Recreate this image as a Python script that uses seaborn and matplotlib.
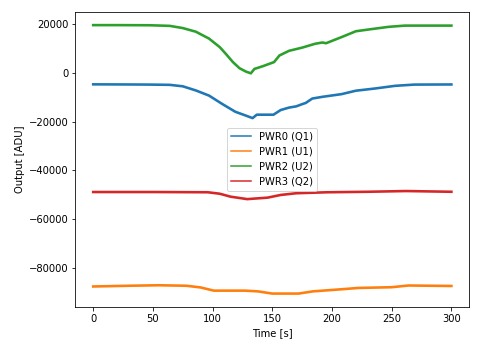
import numpy as np
import pandas as pd
import matplotlib
matplotlib.use("Agg")
import matplotlib.pyplot as plt
import seaborn as sns

labels = ["PWR0 (Q1)", "PWR1 (U1)", "PWR2 (U2)", "PWR3 (Q2)"]

t_pwr0 = [0, 30, 47, 64, 75, 86, 97, 108, 119, 128, 133.5, 137, 151, 157, 164, 170, 175, 178,
          183.5, 192, 208, 220, 236, 253, 269, 300]
v_pwr0 = [-4800, -4850, -4900, -5000, -5600, -7300, -9400, -12800, -16000, -17600, -18600, -17200,
          -17200, -15300, -14300, -13800, -12900, -12400, -10600, -9900, -8800, -7400, -6500,
          -5400, -4900, -4850]

t_pwr1 = [0, 30, 55, 78, 90, 101, 127, 138, 150, 172, 184, 209, 222, 250, 264, 300]
v_pwr1 = [-87400, -87100, -86900, -87100, -87800, -89100, -89100, -89400, -90300, -90300, -89400,
          -88500, -88000, -87700, -87000, -87200]

t_pwr2 = [0, 20, 47, 64, 75, 86, 97, 106, 111, 117, 122.5, 128, 132, 135, 142, 151.5, 156, 164,
          175, 186, 192, 195, 208.5, 220, 233.5, 247.5, 261, 300]
v_pwr2 = [19400, 19400, 19350, 19100, 18200, 16700, 13900, 10400, 7700, 4300, 1800, 400, -300,
          1500, 2600, 4300, 7000, 8900, 10200, 11800, 12300, 12000, 14600, 16900, 17800, 18700,
          19200, 19200]

t_pwr3 = [0, 50, 96, 106, 115, 129, 146, 157, 170, 196, 230, 262, 300]
v_pwr3 = [-48800, -48800, -48900, -49500, -50700, -51700, -51100, -50000, -49300, -48900, -48700,
          -48400, -48700]

frames = []
for lab, t, v in zip(labels, [t_pwr0, t_pwr1, t_pwr2, t_pwr3], [v_pwr0, v_pwr1, v_pwr2, v_pwr3]):
    frames.append(pd.DataFrame({"Time": t, "Output": v, "Channel": lab}))
df = pd.concat(frames, ignore_index=True)

fig = plt.figure(figsize=(483 / 72, 347 / 72), dpi=72)
ax = fig.add_axes([75.3 / 483, 1 - 307 / 347, (469.3 - 75.3) / 483, (307 - 11.7) / 347])
sns.lineplot(data=df, x="Time", y="Output", hue="Channel", hue_order=labels,
             palette=["#1f77b4", "#ff7f0e", "#2ca02c", "#d62728"],
             estimator=None, sort=False, linewidth=2.6, ax=ax)
ax.set_xlabel("Time [s]")
ax.set_ylabel("Output [ADU]")
ax.set_xticks([0, 50, 100, 150, 200, 250, 300])
ax.set_yticks([-80000, -60000, -40000, -20000, 0, 20000])
h, l = ax.get_legend_handles_labels()
for hh in h:
    hh.set_linewidth(1.5)
ax.legend(h, l, loc="center")
fig.savefig("out.png", dpi=72)
